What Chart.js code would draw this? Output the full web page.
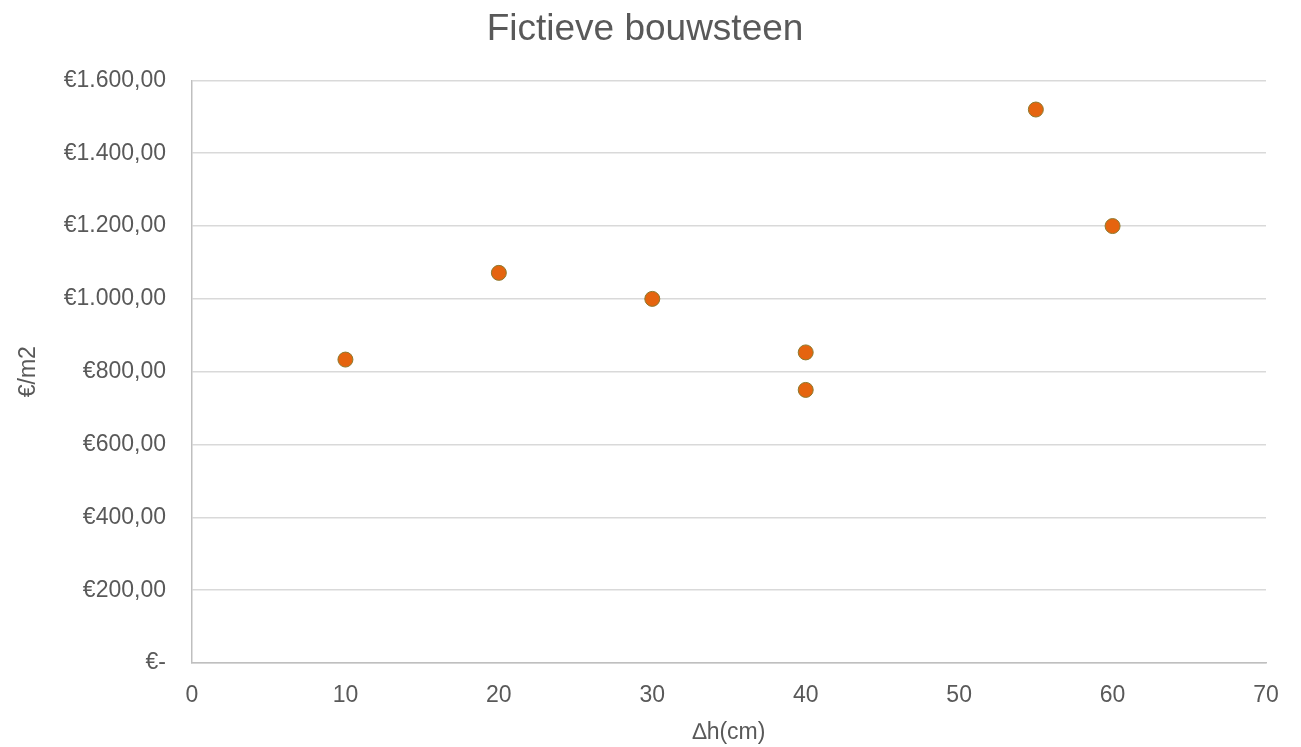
<!DOCTYPE html>
<html>
<head>
<meta charset="utf-8">
<title>Fictieve bouwsteen</title>
<script src="https://cdn.jsdelivr.net/npm/chart.js@4.4.1/dist/chart.umd.min.js"></script>
<style>
  html, body { margin: 0; padding: 0; background: #ffffff; }
  #wrap { width: 1301px; height: 747px; }
</style>
</head>
<body>
<div id="wrap"><canvas id="scatterChart" width="1301" height="747"></canvas></div>
<script>
const heights = [10, 20, 30, 40, 40, 55, 60];
const prices = [833.33, 1071.43, 1000, 853, 750, 1520, 1200];
const xTicks = [0, 10, 20, 30, 40, 50, 60, 70];
const yTicks = [0, 200, 400, 600, 800, 1000, 1200, 1400, 1600];

const textColor = "#595959";
const fontFamily = "'Liberation Sans', Arial, sans-serif";

function euro(v) {
  if (v === 0) return "€-";
  const parts = v.toFixed(2).split(".");
  const whole = parts[0].replace(/\B(?=(\d{3})+(?!\d))/g, ".");
  return "€" + whole + "," + parts[1];
}

const points = heights.map((h, i) => ({ x: h, y: prices[i] }));

const ctx = document.getElementById("scatterChart").getContext("2d");
const chart = new Chart(ctx, {
  type: "scatter",
  data: {
    datasets: [
      {
        label: "€/m2",
        data: points,
        backgroundColor: "#E5640F",
        borderColor: "#8C7A2E",
        borderWidth: 1,
        pointRadius: 7.5,
        pointHoverRadius: 7.5,
      },
    ],
  },
  options: {
    responsive: false,
    animation: false,
    layout: { padding: { left: 24, right: 35, top: 0, bottom: 0 } },
    plugins: {
      legend: { display: false },
      tooltip: { enabled: false },
      title: {
        display: true,
        text: "Fictieve bouwsteen",
        color: textColor,
        font: { family: fontFamily, size: 37, weight: "normal" },
        padding: { top: 8, bottom: 28 },
      },
    },
    scales: {
      x: {
        type: "linear",
        min: 0,
        max: 70,
        afterBuildTicks: (scale) => {
          scale.ticks = xTicks.map((v) => ({ value: v }));
        },
        afterFit: (scale) => {
          scale.height = 84;
        },
        grid: { display: false, drawTicks: false },
        border: { display: true, color: "#bfbfbf", width: 1.5 },
        ticks: {
          color: textColor,
          padding: 19,
          font: { family: fontFamily, size: 23 },
        },
        title: {
          display: true,
          text: "∆h(cm)",
          color: textColor,
          font: { family: fontFamily, size: 23 },
          padding: { top: 0, bottom: 1 },
        },
      },
      y: {
        type: "linear",
        min: 0,
        max: 1600,
        afterBuildTicks: (scale) => {
          scale.ticks = yTicks.map((v) => ({ value: v }));
        },
        afterFit: (scale) => {
          scale.width = 168;
        },
        grid: { color: "#d9d9d9", lineWidth: 1.5, drawTicks: false },
        border: { display: true, color: "#bfbfbf", width: 1.5 },
        ticks: {
          color: textColor,
          padding: 26,
          font: { family: fontFamily, size: 23 },
          callback: (v) => euro(v),
        },
        title: {
          display: true,
          text: "€/m2",
          color: textColor,
          font: { family: fontFamily, size: 23 },
          padding: { top: -9, bottom: 0 },
        },
      },
    },
  },
});
</script>
</body>
</html>
